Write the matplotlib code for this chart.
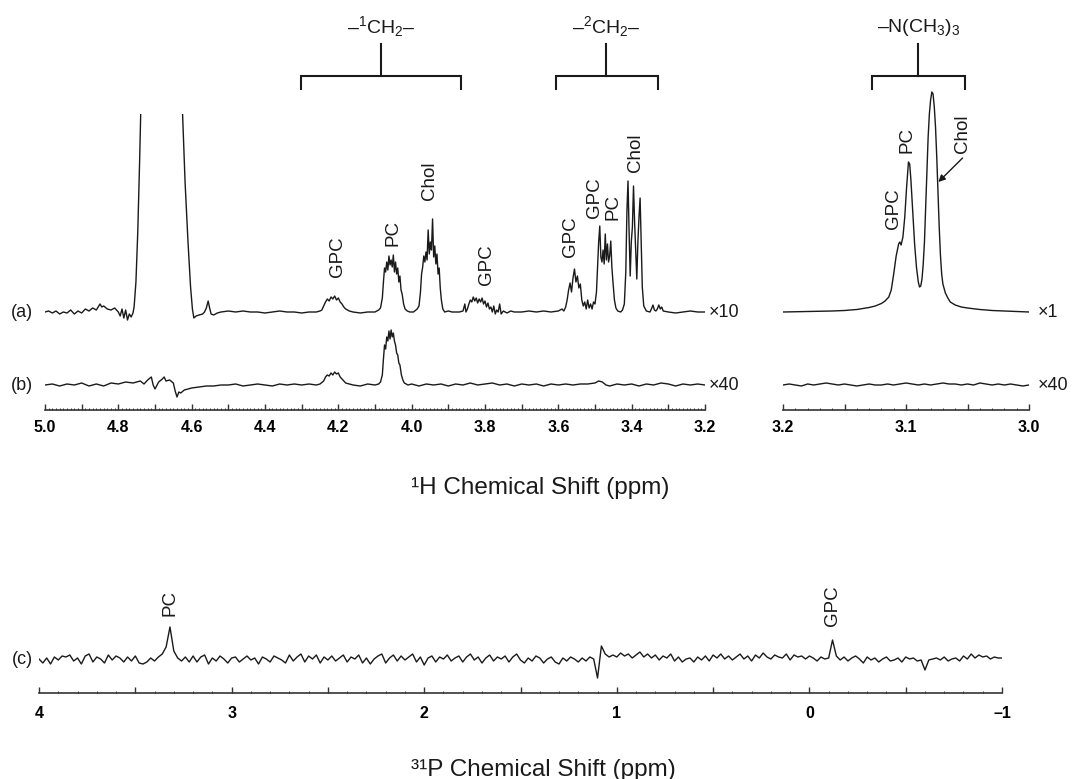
import numpy as np
import matplotlib
matplotlib.use("Agg")
import matplotlib.pyplot as plt
from matplotlib.ticker import MultipleLocator

plt.rcParams['font.family'] = ['Liberation Sans', 'DejaVu Sans']
plt.rcParams['mathtext.fontset'] = 'custom'
plt.rcParams['mathtext.rm'] = 'Liberation Sans'
plt.rcParams['mathtext.it'] = 'Liberation Sans:italic'
plt.rcParams['mathtext.bf'] = 'Liberation Sans:bold'

# ---------------- data (ppm, intensity) ----------------
# 1H spectrum (a), x10, 5.0-3.2 ppm
a_left = [
    (5.00, 0), (4.99, 1), (4.98, -1), (4.97, 1), (4.96, -2), (4.95, 0), (4.94, -1), (4.93, 2), (4.92, -2),
    (4.91, 1), (4.90, -1), (4.89, 3), (4.88, 1), (4.87, 4), (4.86, 2), (4.85, 8), (4.845, 5), (4.84, 6),
    (4.83, 3), (4.82, 2), (4.81, 4), (4.80, 0), (4.795, -4), (4.79, 3), (4.785, -6), (4.78, 2), (4.775, -8),
    (4.77, -2), (4.765, -5), (4.76, -1),
    (4.757, 5), (4.752, 30), (4.747, 80), (4.742, 150), (4.737, 230), (4.73, 400), (4.70, 1500), (4.66, 1500),
    (4.64, 400), (4.632, 260), (4.625, 200), (4.618, 130), (4.61, 70), (4.603, 25), (4.598, 3), (4.594, -6),
    (4.588, -4), (4.58, -3), (4.57, -2), (4.565, 0), (4.56, 4), (4.555, 11), (4.551, 4), (4.547, -2), (4.54, -3),
    (4.53, -1), (4.52, 0), (4.50, 1), (4.48, 0), (4.46, 1), (4.44, 0), (4.42, 0), (4.40, -1), (4.38, 0),
    (4.36, 1), (4.34, 0), (4.32, 0), (4.30, -1), (4.28, 0), (4.26, 0), (4.25, 1),
    (4.245, 2), (4.24, 6), (4.235, 10), (4.23, 13), (4.225, 11), (4.22, 15), (4.215, 13), (4.21, 16),
    (4.205, 12), (4.20, 14), (4.195, 10), (4.19, 8), (4.185, 5), (4.18, 3), (4.17, 1), (4.16, 0), (4.14, -1),
    (4.12, 0), (4.10, 0), (4.09, 2),
    (4.085, 4), (4.08, 14), (4.077, 30), (4.074, 44), (4.071, 40), (4.068, 50), (4.065, 42), (4.062, 56),
    (4.059, 47), (4.056, 52), (4.053, 45), (4.05, 57), (4.047, 40), (4.044, 50), (4.041, 38), (4.038, 44),
    (4.035, 30), (4.032, 36), (4.029, 22), (4.026, 18), (4.022, 8), (4.018, 3), (4.012, 1), (4.005, 0),
    (3.995, 0), (3.985, 3),
    (3.98, 6), (3.976, 20), (3.973, 38), (3.97, 45), (3.967, 56), (3.964, 50), (3.961, 60), (3.958, 52),
    (3.955, 82), (3.952, 58), (3.949, 70), (3.946, 62), (3.943, 93), (3.94, 55), (3.937, 66), (3.934, 48),
    (3.931, 58), (3.928, 38), (3.925, 44), (3.922, 24), (3.919, 12), (3.915, 3), (3.91, 0), (3.90, 1),
    (3.89, 0), (3.87, 0),
    (3.86, 1), (3.855, 8), (3.852, 0), (3.848, 3), (3.844, 8), (3.84, 12), (3.836, 10), (3.832, 15),
    (3.828, 11), (3.824, 14), (3.82, 9), (3.816, 13), (3.812, 10), (3.808, 14), (3.804, 8), (3.80, 11),
    (3.796, 5), (3.792, 9), (3.788, 3), (3.784, 5), (3.78, 0), (3.776, 6), (3.772, -2), (3.768, 2),
    (3.764, 0), (3.76, 8), (3.756, -2), (3.75, 1), (3.745, 0), (3.74, -1), (3.73, 1), (3.72, 0), (3.70, 0),
    (3.68, 1), (3.66, 0), (3.64, 1), (3.62, 0), (3.60, 1), (3.59, 3), (3.585, 1),
    (3.58, 5), (3.576, 12), (3.572, 22), (3.568, 29), (3.564, 20), (3.56, 34), (3.556, 43), (3.552, 30),
    (3.548, 36), (3.544, 24), (3.54, 28), (3.536, 12), (3.532, 6), (3.528, 10), (3.524, 3), (3.52, 12),
    (3.516, 4), (3.512, 8), (3.508, 3), (3.504, 10),
    (3.50, 8), (3.496, 20), (3.493, 45), (3.49, 70), (3.487, 86), (3.484, 55), (3.481, 50), (3.478, 62),
    (3.475, 48), (3.472, 78), (3.469, 52), (3.466, 68), (3.463, 50), (3.46, 56), (3.457, 71), (3.454, 45),
    (3.451, 30), (3.447, 12), (3.443, 4), (3.438, 1), (3.43, 0), (3.425, 2),
    (3.42, 8), (3.416, 40), (3.413, 100), (3.41, 131), (3.407, 80), (3.404, 36), (3.401, 70), (3.398, 85),
    (3.395, 126), (3.392, 90), (3.389, 60), (3.386, 33), (3.383, 70), (3.38, 95), (3.377, 114), (3.374, 70),
    (3.371, 25), (3.367, 6), (3.36, 1), (3.35, 0), (3.345, 4), (3.342, 7), (3.338, 2), (3.334, 1), (3.33, 3),
    (3.326, 7), (3.322, 3), (3.318, 5), (3.314, 1), (3.30, 0), (3.28, -1), (3.26, 0), (3.24, 1), (3.22, 0),
    (3.20, 0),
]

# 1H spectrum (a), x1, 3.2-3.0 ppm (N(CH3)3 region)
a_right = [
    (3.200, 0), (3.180, 0.5), (3.160, 1), (3.150, 1.5), (3.140, 2.5), (3.135, 3.5), (3.130, 4.5),
    (3.125, 6), (3.120, 8.5), (3.117, 11), (3.114, 15), (3.112, 22), (3.110, 38), (3.108, 56), (3.106, 68),
    (3.105, 70), (3.104, 67), (3.1025, 75), (3.101, 95), (3.0995, 125), (3.098, 150), (3.097, 148),
    (3.096, 132), (3.0945, 100), (3.093, 68), (3.0915, 45), (3.090, 30), (3.089, 25), (3.088, 26),
    (3.087, 33), (3.086, 48), (3.085, 70), (3.084, 105), (3.083, 140), (3.082, 175), (3.081, 198),
    (3.080, 212), (3.079, 220), (3.078, 218), (3.077, 205), (3.076, 185), (3.075, 155), (3.074, 120),
    (3.073, 85), (3.072, 57), (3.071, 38), (3.070, 28), (3.068, 19), (3.066, 14), (3.064, 10), (3.060, 7),
    (3.055, 5), (3.050, 4), (3.040, 2.5), (3.030, 1.5), (3.020, 1), (3.000, 0),
]

# 1H spectrum (b), x40, 5.0-3.2 ppm
b_left = [
    (5.00, 0), (4.98, 1), (4.96, -1), (4.94, 1), (4.92, 0), (4.90, 2), (4.88, -1), (4.86, 1), (4.84, -1),
    (4.82, 2), (4.80, 1), (4.78, 3), (4.76, 2), (4.74, 4), (4.73, 1), (4.72, 5), (4.71, 8), (4.705, 0),
    (4.70, -4), (4.69, 3), (4.68, 6), (4.675, 8), (4.67, 4), (4.66, 5), (4.65, 2), (4.645, -6), (4.64, -12),
    (4.635, -7), (4.63, -8), (4.62, -5), (4.60, -3), (4.58, -2), (4.56, -1), (4.54, -1), (4.52, 0), (4.50, 0),
    (4.48, 1), (4.46, -1), (4.44, 0), (4.42, 1), (4.40, 0), (4.38, -1), (4.36, 1), (4.34, 0), (4.32, 1),
    (4.30, 0), (4.28, 1), (4.26, 0), (4.25, 1), (4.24, 4), (4.235, 8), (4.23, 10), (4.225, 9), (4.22, 12),
    (4.215, 10), (4.21, 13), (4.205, 11), (4.20, 12), (4.195, 8), (4.19, 6), (4.185, 4), (4.18, 2),
    (4.17, 1), (4.16, 0), (4.14, -1), (4.12, 1), (4.10, 0), (4.09, 1), (4.085, 3), (4.08, 10), (4.077, 26),
    (4.074, 40), (4.071, 36), (4.068, 48), (4.065, 44), (4.062, 54), (4.059, 46), (4.056, 55), (4.053, 48),
    (4.05, 52), (4.047, 44), (4.044, 40), (4.041, 32), (4.038, 30), (4.035, 22), (4.032, 20), (4.028, 10),
    (4.024, 5), (4.02, 2), (4.015, 1), (4.01, 0), (4.00, 1), (3.98, -1), (3.96, 1), (3.94, 0), (3.92, 1),
    (3.90, -1), (3.88, 1), (3.86, 0), (3.84, 2), (3.82, 0), (3.80, 1), (3.78, 2), (3.76, 0), (3.74, 1),
    (3.72, -1), (3.70, 1), (3.68, 0), (3.66, 1), (3.64, -1), (3.62, 1), (3.60, 0), (3.58, 1), (3.56, 0),
    (3.54, 1), (3.52, 1), (3.50, 2), (3.49, 4), (3.48, 3), (3.47, 0), (3.46, -1), (3.44, 1), (3.42, 0),
    (3.40, 1), (3.38, -1), (3.36, 1), (3.34, 0), (3.32, 2), (3.30, 1), (3.28, -1), (3.26, 1), (3.24, 0),
    (3.22, 1), (3.20, 0),
]

# 1H spectrum (b), x40, 3.2-3.0 ppm (sampled every 0.005 ppm)
b_right_ppm = np.round(np.linspace(3.2, 3.0, 41), 3)
b_right_int = [0, 1, 0, -1, 1, 0, 1, 2, 1, 0, 1, 0, -1, 0, 1, 0, 0, 1, 0, 1, 2,
               1, 0, 1, 0, 1, 2, 1, 1, 0, 1, 0, 2, 1, 0, 1, 0, 1, 0, -1, 0]

# 31P spectrum (c), 4 to -1 ppm (sampled every 0.02 ppm)
p31_ppm = np.round(np.linspace(4.0, -1.0, 251), 2)
p31_int = [
    1, -3, 2, -4, 3, 0, 4, 3, 5, -1,
    2, -4, 4, 6, -2, 3, 1, -3, 5, 0,
    4, 2, -2, 3, -1, 4, -3, -4, -2, 2,
    -1, 3, 6, 13, 33, 9, 2, -1, 3, -2,
    4, -2, 3, 5, -4, 2, -1, 4, 1, -3,
    2, 3, -2, 1, 4, 0, 2, -4, 3, 1,
    -2, 4, 2, 0, -3, 5, -1, 3, 6, -2,
    4, 1, 5, -3, 3, 0, 4, -1, 2, 5,
    -2, 3, 1, 5, -3, 2, -4, 1, 4, 6,
    -3, 2, 5, -1, 4, 0, 3, 6, -2, 3,
    -5, 2, 4, -2, 3, 1, 5, -1, 2, 4,
    -2, 3, 6, 0, 3, -3, 2, 5, -1, 3,
    1, 4, -2, 3, 6, 0, -3, 2, -1, 4,
    2, -3, 1, 3, -2, -4, 2, -1, 3, 1,
    -2, 2, -1, 3, 1, -18, 14, 6, 3, 5,
    3, 7, 4, 6, 2, 5, 8, 3, 6, 2,
    5, 0, 4, 2, 6, -1, 3, -2, 1, 2,
    -2, 3, 0, 4, -1, 5, 2, 6, 1, 4,
    0, 3, 6, 1, 4, -1, 5, 2, 7, 3,
    1, 5, 3, 2, 6, 0, 5, 3, 4, 1,
    4, 2, -1, 3, 1, 2, 20, 4, 0, 3,
    -1, 2, 4, 1, -3, 3, 0, 2, -2, 1,
    3, -1, 0, 2, -2, 3, 1, 2, -1, 0,
    -10, 0, 1, 2, 0, 3, -1, 1, 2, -1,
    4, 1, 6, 2, 5, 3, 4, 1, 3, 2,
    2,
]

# peak labels: (text, ppm)
h_left_labels = [("GPC", 4.202), ("PC", 4.052), ("Chol", 3.950), ("GPC", 3.797),
                 ("GPC", 3.566), ("GPC", 3.500), ("PC", 3.451), ("Chol", 3.389)]
h_right_labels = [("GPC", 3.110), ("PC", 3.099), ("Chol", 3.054)]
p_labels = [("PC", 3.32), ("GPC", -0.12)]

# group brackets: (label, ppm low-field end, ppm high-field end, ppm centre)
groups_left = [("–$^{1}$CH$_{2}$–", 4.302, 3.866, 4.084),
               ("–$^{2}$CH$_{2}$–", 3.607, 3.328, 3.470)]
groups_right = [("–N(CH$_{3}$)$_{3}$", 3.128, 3.052, 3.090)]

# ---------------- figure ----------------
W, H = 1073, 779
fig = plt.figure(figsize=(W / 100, H / 100), dpi=100)
fig.patch.set_facecolor('white')
INK = '#1a1a1a'
LW = 1.0


def px_axes(x0, x1, ytop, ybot):
    return fig.add_axes([x0 / W, 1 - ybot / H, (x1 - x0) / W, (ybot - ytop) / H])


def style_axis(ax, pad):
    for s in ('top', 'left', 'right'):
        ax.spines[s].set_visible(False)
    ax.spines['bottom'].set_linewidth(1.2)
    ax.spines['bottom'].set_color('#333333')
    ax.set_yticks([])
    ax.patch.set_alpha(0)
    ax.tick_params(axis='x', which='major', direction='in', length=4.2, width=1.0,
                   color='#333333', pad=pad, labelsize=11.5)
    ax.tick_params(axis='x', which='minor', direction='in', length=1.7, width=0.7, color='#333333')
    for lab in ax.get_xticklabels():
        lab.set_fontweight('bold')


# offsets of trace baselines (pixels above axis line)
OFF_A, OFF_B, OFF_C = 98, 25, 33

# --- left 1H panel
axL = px_axes(45, 705, 114, 410)
axL.set_xlim(5.0, 3.2)
axL.set_ylim(0, 296)
ppm, val = np.array(a_left).T
axL.plot(ppm, val + OFF_A, color=INK, lw=LW)
ppm, val = np.array(b_left).T
axL.plot(ppm, val + OFF_B, color=INK, lw=LW)
majL = np.round(np.arange(5.0, 3.19, -0.1), 2)
axL.set_xticks(majL, [f"{v:.1f}" if int(round(v * 10)) % 2 == 0 else "" for v in majL])
axL.xaxis.set_minor_locator(MultipleLocator(0.01))
style_axis(axL, 7.5)

label_y_left = {0: 153, 1: 177, 2: 229, 3: 145, 4: 173, 5: 212, 6: 203, 7: 257}
for i, (t, p) in enumerate(h_left_labels):
    axL.text(p, label_y_left[i], t, rotation=90, ha='center', va='center', fontsize=13.5, color=INK)

# --- right 1H panel
axR = px_axes(783, 1029, 80, 410)
axR.set_xlim(3.2, 3.0)
axR.set_ylim(0, 330)
ppm, val = np.array(a_right).T
axR.plot(ppm, val + OFF_A, color=INK, lw=LW)
axR.plot(b_right_ppm, np.array(b_right_int) + OFF_B, color=INK, lw=LW)
majR = np.round(np.arange(3.2, 2.99, -0.05), 2)
axR.set_xticks(majR, [f"{v:.1f}" if int(round(v * 100)) % 10 == 0 else "" for v in majR])
axR.xaxis.set_minor_locator(MultipleLocator(0.01))
style_axis(axR, 7.5)

label_y_right = {0: 201, 1: 270, 2: 276}
for i, (t, p) in enumerate(h_right_labels):
    axR.text(p, label_y_right[i], t, rotation=90, ha='center', va='center', fontsize=13.5, color=INK)
axR.annotate('', xy=(3.0737, 228), xytext=(3.054, 252),
             arrowprops=dict(arrowstyle='-|>', lw=1.0, color=INK, mutation_scale=10,
                             shrinkA=0, shrinkB=0))

# brackets
BAR, END, STEM, LAB = 334, 321, 366, 383
for ax, groups in ((axL, groups_left), (axR, groups_right)):
    for lab, lo, hi, mid in groups:
        ax.plot([lo, lo, hi, hi], [END, BAR, BAR, END], color=INK, lw=1.5, clip_on=False,
                solid_joinstyle='miter')
        ax.plot([mid, mid], [BAR, STEM], color=INK, lw=1.5, clip_on=False)
        ax.text(mid, LAB, lab, ha='center', va='center', fontsize=14, color=INK, clip_on=False)

# --- 31P panel
axP = px_axes(39, 1002, 560, 693)
axP.set_xlim(4.0, -1.0)
axP.set_ylim(0, 133)
axP.plot(p31_ppm, np.array(p31_int) + OFF_C, color=INK, lw=LW)
majP = np.round(np.arange(4.0, -1.01, -0.5), 1)
axP.set_xticks(majP, [("–1" if v == -1 else f"{int(v)}") if float(v).is_integer() else "" for v in majP])
axP.xaxis.set_minor_locator(MultipleLocator(0.1))
style_axis(axP, 9)
for t, p in p_labels:
    yy = 90 if t == "PC" else 87
    axP.text(p, yy, t, rotation=90, ha='center', va='center', fontsize=13.5, color=INK)


# --- figure texts
def ftext(x, y, s, **kw):
    fig.text(x / W, 1 - y / H, s, color=INK, **kw)


ftext(22, 312, "(a)", ha='center', va='center', fontsize=13)
ftext(22, 385, "(b)", ha='center', va='center', fontsize=13)
ftext(22, 660, "(c)", ha='center', va='center', fontsize=13)
ftext(709, 312, "×10", ha='left', va='center', fontsize=13)
ftext(1038, 312, "×1", ha='left', va='center', fontsize=13)
ftext(709, 385, "×40", ha='left', va='center', fontsize=13)
ftext(1038, 385, "×40", ha='left', va='center', fontsize=13)
ftext(540, 494, "¹H Chemical Shift (ppm)", ha='center', va='baseline', fontsize=17.5)
ftext(543, 776, "³¹P Chemical Shift (ppm)", ha='center', va='baseline', fontsize=17.5)

fig.savefig("out.png", dpi=100, facecolor='white')
